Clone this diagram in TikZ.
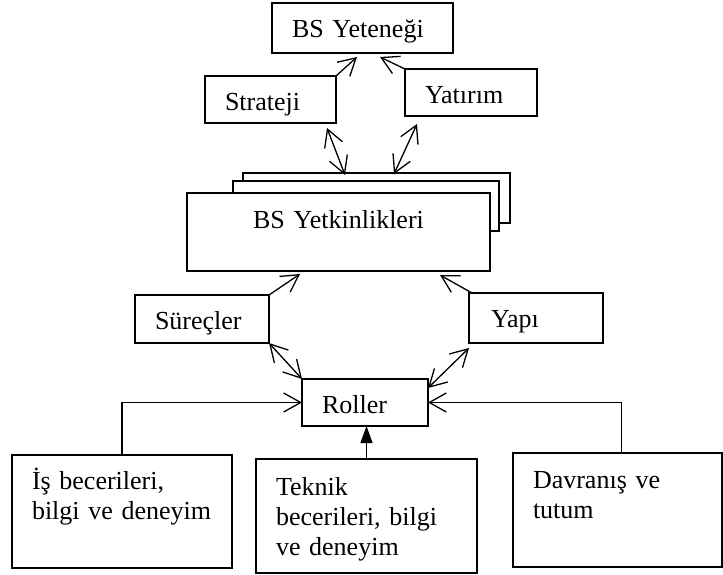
\documentclass[tikz,border=0pt]{standalone}
\usepackage{fontspec}
\setmainfont{Liberation Serif}
\usetikzlibrary{arrows.meta}

\begin{document}
\begin{tikzpicture}[x=1pt,y=-1pt,
  font=\fontsize{26}{30}\selectfont,
  wbox/.style={draw,line width=1.3pt,fill=white,anchor=north west,
    inner xsep=20pt,inner ysep=0pt,outer sep=0pt,align=left,text height=34pt},
  sheet/.style={draw,line width=1.3pt,fill=white,anchor=north west,
    inner sep=0pt,outer sep=0pt},
  arr/.style={line width=1.3pt,-{Straight Barb[length=17pt,width=19pt]}},
  darr/.style={line width=1.3pt,{Straight Barb[length=17pt,width=19pt]}-{Straight Barb[length=17pt,width=19pt]}},
  tri/.style={line width=1.3pt,-{Triangle[length=17pt,width=12pt]}}]
  \useasboundingbox (0,0) rectangle (723,574);
  \node[wbox,text width=141pt,text depth=16pt] (yet) at (272,3) {BS Yeteneği};
  \node[wbox,text width=91pt,text depth=13pt] (strat) at (205,76) {Strateji};
  \node[wbox,text width=92pt,text depth=13pt] (yatirim) at (405,69) {Yatırım};
  \node[sheet,minimum width=267pt,minimum height=50pt] (back1) at (243,173) {};
  \node[sheet,minimum width=266pt,minimum height=50pt] (back2) at (233,181) {};
  \node[wbox,text width=263pt,text height=35pt,text depth=43pt,align=center] (yetkin) at (187,193) {BS Yetkinlikleri};
  \node[wbox,text width=94pt,text depth=14pt] (surec) at (135,295) {Süreçler};
  \node[wbox,text depth=16pt,inner xsep=22pt,text width=90pt] (yapi) at (469,293) {Yapı};
  \node[wbox,text width=86pt,text depth=13pt] (roller) at (302,379) {Roller};
  \node[wbox,text width=180pt,text depth=79pt] (is) at (12,455) {İş becerileri,\\bilgi ve deneyim};
  \node[wbox,text width=181pt,text height=36pt,text depth=78pt] (teknik) at (256,459) {Teknik\\becerileri, bilgi\\ve deneyim};
  \node[wbox,text width=169pt,text height=35pt,text depth=79pt] (davranis) at (513,453) {Davranış ve\\tutum};
  \draw[arr] (strat.north east) -- ([xshift=85pt,yshift=-4pt]yet.south west);
  \draw[arr] (yatirim.north west) -- ([xshift=108pt,yshift=-4pt]yet.south west);
  \draw[darr] ([xshift=-9pt,yshift=-5pt]strat.south east) -- ([xshift=102pt,yshift=-2pt]back1.north west);
  \draw[darr] ([xshift=12pt,yshift=-8pt]yatirim.south west) -- ([xshift=151pt,yshift=-1pt]back1.north west);
  \draw[arr] (surec.north east) -- ([xshift=113pt,yshift=-3pt]yetkin.south west);
  \draw[arr] ([xshift=3pt]yapi.north west) -- ([xshift=253pt,yshift=-4pt]yetkin.south west);
  \draw[darr] (surec.south east) -- (roller.north west);
  \draw[darr] ([yshift=-5pt]yapi.south west) -- ([yshift=-9pt]roller.north east);
  \draw[arr] (is.north) |- (roller.west);
  \draw[arr] ([xshift=4pt]davranis.north) |- (roller.east);
  \draw[tri] (teknik.north) -- (teknik.north |- roller.south);
\end{tikzpicture}
\end{document}
